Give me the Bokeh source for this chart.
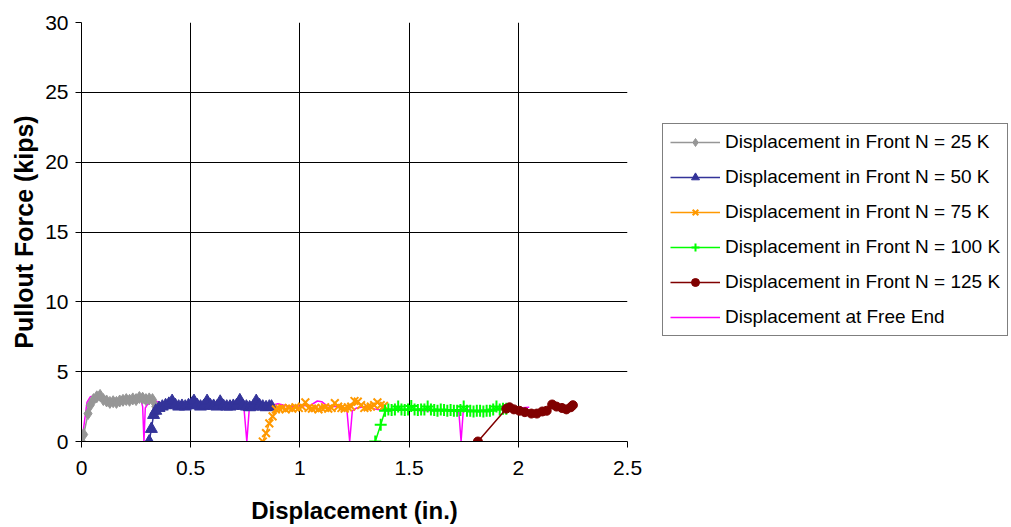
from bokeh.plotting import figure
from bokeh.models import Legend, LegendItem, FixedTicker, Range1d, CustomJSTickFormatter
from bokeh.embed import file_html
from bokeh.resources import INLINE

# ---- data ----
x_ticks = [0, 0.5, 1, 1.5, 2, 2.5]
y_ticks = [0, 5, 10, 15, 20, 25, 30]

labels = [
    "Displacement in Front N = 25 K",
    "Displacement in Front N = 50 K",
    "Displacement in Front N = 75 K",
    "Displacement in Front N = 100 K",
    "Displacement in Front N = 125 K",
    "Displacement at Free End",
]

x25 = [0, 0.01, 0.03, 0.04, 0.055, 0.07, 0.085, 0.1, 0.115, 0.13, 0.145, 0.16, 0.175,
       0.19, 0.205, 0.22, 0.235, 0.25, 0.265, 0.28, 0.295, 0.31, 0.325, 0.34, 0.35]
y25 = [0, 0.5, 2.0, 2.6, 3.0, 3.2, 3.3, 3.0, 2.9, 2.8, 2.85, 2.8, 2.9,
       2.95, 3.0, 2.95, 3.05, 3.0, 3.15, 3.1, 3.0, 3.05, 3.0, 2.5, 2.3]

x50 = [0.31, 0.32, 0.33, 0.34, 0.355, 0.37, 0.385, 0.40, 0.415, 0.43,
       0.445, 0.46, 0.475, 0.49, 0.505, 0.515, 0.53, 0.545, 0.56, 0.575,
       0.59, 0.605, 0.62, 0.635, 0.65, 0.665, 0.68, 0.695, 0.71, 0.725,
       0.74, 0.755, 0.77, 0.785, 0.80, 0.815, 0.83, 0.845, 0.86, 0.87]
y50 = [0, 0.9, 1.9, 2.2, 2.4, 2.5, 2.6, 2.7, 2.9, 2.6,
       2.5, 2.55, 2.5, 2.6, 2.7, 2.9, 2.6, 2.5, 2.55, 2.9,
       2.6, 2.55, 2.5, 2.85, 2.55, 2.5, 2.5, 2.55, 2.6, 2.95,
       2.55, 2.5, 2.45, 2.5, 2.9, 2.6, 2.5, 2.45, 2.5, 2.5]

x75 = [0.83, 0.845, 0.86, 0.875, 0.89, 0.905, 0.92, 0.935, 0.95, 0.965,
       0.98, 0.995, 1.01, 1.025, 1.04, 1.055, 1.07, 1.085, 1.1, 1.115,
       1.13, 1.145, 1.16, 1.175, 1.19, 1.205, 1.22, 1.235, 1.25, 1.265,
       1.28, 1.295, 1.31, 1.325, 1.34, 1.355, 1.37, 1.385]
y75 = [0, 0.6, 1.3, 1.8, 2.3, 2.35, 2.4, 2.3, 2.4, 2.35,
       2.45, 2.4, 2.5, 2.8, 2.4, 2.35, 2.4, 2.3, 2.4, 2.45,
       2.35, 2.4, 2.75, 2.5, 2.4, 2.35, 2.45, 2.5, 2.9, 2.85,
       2.6, 2.4, 2.45, 2.5, 2.6, 2.8, 2.6, 2.55]

x100 = [1.345, 1.37, 1.39, 1.405, 1.42, 1.435, 1.45, 1.465, 1.48, 1.495,
        1.51, 1.525, 1.54, 1.555, 1.57, 1.585, 1.6, 1.615, 1.63, 1.645,
        1.66, 1.675, 1.69, 1.705, 1.72, 1.735, 1.75, 1.765, 1.78, 1.795,
        1.81, 1.825, 1.84, 1.855, 1.87, 1.885, 1.9, 1.915, 1.93, 1.945]
y100 = [0, 1.2, 2.2, 2.3, 2.25, 2.3, 2.5, 2.3, 2.25, 2.3,
        2.55, 2.3, 2.25, 2.3, 2.3, 2.5, 2.3, 2.25, 2.2, 2.3,
        2.25, 2.2, 2.25, 2.2, 2.2, 2.25, 2.5, 2.2, 2.2, 2.15,
        2.2, 2.2, 2.15, 2.2, 2.2, 2.3, 2.5, 2.3, 2.35, 2.35]

x125 = [1.815, 1.945, 1.96, 1.98, 2.005, 2.03, 2.06, 2.085, 2.11, 2.13,
        2.155, 2.175, 2.2, 2.22, 2.24, 2.25]
y125 = [0, 2.35, 2.45, 2.3, 2.2, 2.1, 2.0, 2.0, 2.15, 2.2,
        2.65, 2.5, 2.4, 2.3, 2.45, 2.6]

xfree = [0, 0.01, 0.025, 0.04, 0.06, 0.08, 0.1, 0.13, 0.16, 0.19,
         0.22, 0.25, 0.27, 0.28, 0.286, 0.292, 0.30, 0.32, 0.34, 0.37,
         0.40, 0.44, 0.48, 0.52, 0.56, 0.60, 0.64, 0.68, 0.72, 0.745,
         0.757, 0.768, 0.78, 0.80, 0.83, 0.87, 0.9, 0.95, 1.0, 1.05,
         1.08, 1.1, 1.12, 1.15, 1.19, 1.215, 1.228, 1.24, 1.26, 1.3,
         1.35, 1.4, 1.45, 1.5, 1.55, 1.6, 1.65, 1.7, 1.728, 1.738,
         1.748, 1.76, 1.8, 1.85, 1.9, 1.95, 2.0, 2.05]
yfree = [0, 1.0, 2.8, 3.2, 3.25, 3.2, 3.1, 3.0, 3.0, 3.05,
         3.1, 3.2, 3.1, 2.5, 0, 2.4, 2.6, 2.9, 2.9, 2.7,
         2.75, 2.6, 2.7, 2.75, 2.6, 2.8, 2.7, 2.8, 2.6, 2.2,
         0, 2.3, 2.5, 2.6, 2.5, 2.6, 2.7, 2.5, 2.55, 2.6,
         2.9, 2.85, 2.6, 2.5, 2.5, 2.3, 0, 2.2, 2.4, 2.5,
         2.3, 2.2, 2.25, 2.3, 2.2, 2.2, 2.25, 2.2, 2.1, 0,
         2.2, 2.3, 2.2, 2.25, 2.3, 2.35, 2.4, 2.45]

FONT = "Liberation Sans"

p = figure(frame_width=546, frame_height=419,
           x_range=Range1d(0, 2.5), y_range=Range1d(0, 30),
           output_backend="svg", toolbar_location=None,
           min_border_left=81, min_border_top=22, min_border_bottom=70,
           min_border_right=380)
p.background_fill_color = "white"
p.border_fill_color = "white"
p.outline_line_color = None

for ax in (p.xaxis[0], p.yaxis[0]):
    ax.axis_line_color = "black"
    ax.major_tick_line_color = "black"
    ax.minor_tick_line_color = None
    ax.major_tick_in = 0
    ax.major_tick_out = 6
    ax.major_label_text_font = FONT
    ax.major_label_text_font_size = "21px"
    ax.major_label_text_color = "black"
    ax.axis_label_text_font = FONT
    ax.axis_label_text_font_style = "bold"
    ax.axis_label_text_color = "black"

p.xaxis.axis_label_text_font_size = "24px"
p.yaxis.axis_label_text_font_size = "25px"
p.xaxis.ticker = FixedTicker(ticks=x_ticks)
p.yaxis.ticker = FixedTicker(ticks=y_ticks)
p.xaxis.formatter = CustomJSTickFormatter(code="return tick.toString();")
p.xaxis.axis_label = "Displacement (in.)"
p.yaxis.axis_label = "Pullout Force (kips)"
p.xaxis.major_label_standoff = 13
p.yaxis.major_label_standoff = 7
p.xaxis.axis_label_standoff = 19
p.yaxis.axis_label_standoff = 4

p.xgrid.ticker = FixedTicker(ticks=x_ticks)
p.ygrid.ticker = FixedTicker(ticks=y_ticks)
p.xgrid.grid_line_color = "black"
p.ygrid.grid_line_color = "black"
p.xgrid.grid_line_width = 1
p.ygrid.grid_line_width = 1

# free end line first (beneath)
free_line = p.line(xfree, yfree, line_color="#FF00FF", line_width=1.5)

series = [
    (x25, y25, "#969696", "diamond", 12, 1),
    (x50, y50, "#333399", "triangle", 12, 1),
    (x75, y75, "#FF9900", "x", 11, 2),
    (x100, y100, "#00FF00", "cross", 12, 2),
    (x125, y125, "#800000", "circle", 9, 1),
]
items = []
for (xs, ys, col, mk, sz, lw), lab in zip(series, labels[:5]):
    lr = p.line(xs, ys, line_color=col, line_width=1.5)
    sr = p.scatter(xs, ys, marker=mk, size=sz, line_color=col, fill_color=col,
                   line_width=lw)
    items.append(LegendItem(label=lab, renderers=[lr, sr]))
items.append(LegendItem(label=labels[5], renderers=[free_line]))

legend = Legend(items=items, location=(35, 105),
                border_line_color="black", border_line_width=1,
                background_fill_color="white", background_fill_alpha=1,
                label_text_font=FONT, label_text_font_size="19px",
                label_text_color="black",
                glyph_width=50, glyph_height=20, label_height=20,
                spacing=13, padding=7, label_standoff=5, margin=0)
p.add_layout(legend, "right")

open("out.html", "w").write(file_html(p, INLINE))
